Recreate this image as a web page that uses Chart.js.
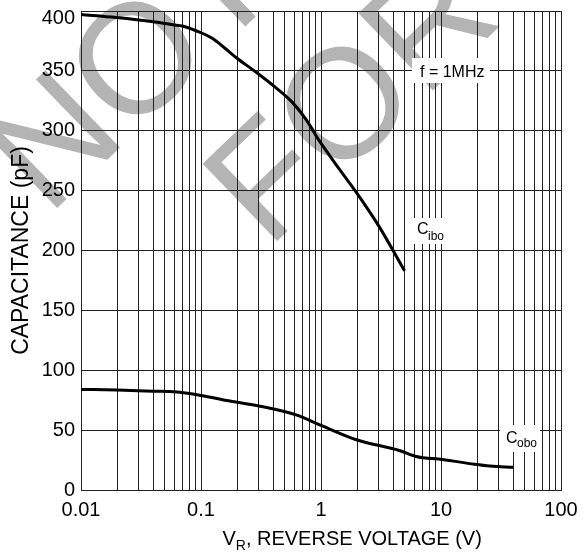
<!DOCTYPE html>
<html>
<head>
<meta charset="utf-8">
<script src="https://cdn.jsdelivr.net/npm/chart.js@4"></script>
<style>
  html, body { margin: 0; padding: 0; background: #fff; }
  #wrap { width: 585px; height: 552px; }
</style>
</head>
<body>
<div id="wrap"><canvas id="capChart" width="585" height="552"></canvas></div>
<script>
// C_ibo curve (V, pF)
const ciboVolts = [0.01, 0.0196, 0.04, 0.058, 0.07, 0.091, 0.125, 0.16, 0.197, 0.287, 0.42, 0.58, 0.75, 0.97, 1.33, 1.97, 3.07, 4.97];
const ciboPf    = [397, 394.5, 391, 388.5, 387.5, 383.5, 377, 368.5, 361, 349, 336, 323.5, 309.5, 291.5, 272, 248.5, 219.5, 183];

// C_obo curve
const coboVolts = [0.01, 0.02, 0.04, 0.06, 0.1, 0.17, 0.31, 0.63, 1.0, 1.97, 4.5, 6.2, 10.3, 19, 25.6, 40];
const coboPf    = [84, 83.5, 82.5, 82, 79, 74.5, 70, 62.5, 54, 42, 33, 28, 25.5, 21.5, 20, 19];

// axis stuff
const xDecades = [0.01, 0.1, 1, 10];
const xTickLabels = ['0.01', '0.1', '1', '10', '100'];
const yMin = 0, yMax = 400, yStep = 50;

const FONT = '"Liberation Sans", Arial, sans-serif';

function toPoints(xs, ys){
    let pts = [];
    for(var i = 0; i < xs.length; i++){
        pts.push({x: xs[i], y: ys[i]});
    }
    return pts;
}

// grid at 1..9 of every decade, plus the last 100
let xGrid = [];
for(var d = 0; d < xDecades.length; d++){
    for(var m = 1; m < 10; m++){
        xGrid.push(xDecades[d] * m);
    }
}
xGrid.push(100);

// grey "NOT / FOR" watermark behind the grid
const watermark = {
    id: 'watermark',
    beforeDraw(chart){
        const ctx = chart.ctx;
        const ang = -44 * Math.PI / 180;
        ctx.save();
        ctx.fillStyle = '#b4b4b4';
        ctx.font = '156px ' + FONT;
        ctx.translate(48, 217);
        ctx.rotate(ang);
        ctx.fillText('NOT', 0, 0);
        ctx.restore();
        ctx.save();
        ctx.fillStyle = '#b4b4b4';
        ctx.font = '156px ' + FONT;
        ctx.translate(268, 250);
        ctx.rotate(ang);
        ctx.fillText('FOR', 0, 0);
        ctx.restore();
    }
};

// white-boxed labels and the x title with its subscript
const labels = {
    id: 'labels',
    afterDraw(chart){
        const ctx = chart.ctx;
        const yScale = chart.scales.y;
        ctx.save();
        ctx.fillStyle = '#fff';
        ctx.fillRect(412, 58, 78, 25);
        ctx.fillRect(412, 218, 36, 26);
        ctx.fillRect(500, 425, 40, 27);

        ctx.fillStyle = '#000';
        ctx.textBaseline = 'alphabetic';
        ctx.textAlign = 'left';
        ctx.font = '16px ' + FONT;
        ctx.fillText('f = 1MHz', 420, 77);
        ctx.fillText('C', 417, 234);
        ctx.fillText('C', 506, 443);
        ctx.font = '12px ' + FONT;
        ctx.fillText('ibo', 428, 240);
        ctx.fillText('obo', 517, 447);

        // top y label sits a bit below the top line, as in the original
        ctx.font = '20px ' + FONT;
        ctx.textAlign = 'right';
        ctx.textBaseline = 'middle';
        ctx.fillText(String(yMax), yScale.right - 6, yScale.getPixelForValue(yMax) + 7);

        // x axis title: V_R, REVERSE VOLTAGE (V)
        ctx.textAlign = 'left';
        ctx.textBaseline = 'alphabetic';
        const main = ', REVERSE VOLTAGE (V)';
        const wV = ctx.measureText('V').width;
        const wComma = ctx.measureText(', ').width;
        ctx.font = '14px ' + FONT;
        const wR = ctx.measureText('R').width;
        let x0 = 257 - wComma - wR - wV;
        ctx.font = '20px ' + FONT;
        ctx.fillText('V', x0, 545);
        ctx.font = '14px ' + FONT;
        ctx.fillText('R', x0 + wV, 550);
        ctx.font = '20px ' + FONT;
        ctx.fillText(main, x0 + wV + wR, 545);
        ctx.restore();
    }
};

const ctx = document.getElementById('capChart').getContext('2d');
const capChart = new Chart(ctx, {
    type: 'scatter',
    data: {
        datasets: [{
            label: 'Cibo',
            data: toPoints(ciboVolts, ciboPf),
            showLine: true,
            borderColor: '#000',
            borderWidth: 3,
            pointRadius: 0,
            cubicInterpolationMode: 'monotone'
        }, {
            label: 'Cobo',
            data: toPoints(coboVolts, coboPf),
            showLine: true,
            borderColor: '#000',
            borderWidth: 3,
            pointRadius: 0,
            cubicInterpolationMode: 'monotone'
        }]
    },
    options: {
        responsive: false,
        animation: false,
        layout: {
            padding: {left: 0, top: 11, right: 24, bottom: 0}
        },
        plugins: {
            legend: { display: false },
            tooltip: { enabled: false },
            title: { display: false }
        },
        scales: {
            x: {
                type: 'logarithmic',
                min: 0.01,
                max: 100,
                afterBuildTicks: function(scale){
                    scale.ticks = xGrid.map(v => ({value: v}));
                },
                afterFit: function(scale){
                    scale.height = 62;
                    scale.paddingLeft = 0;
                    scale.paddingRight = 0;
                },
                grid: {
                    color: '#222',
                    lineWidth: 1,
                    drawTicks: false
                },
                border: { color: '#222' },
                ticks: {
                    autoSkip: false,
                    maxRotation: 0,
                    padding: 8,
                    color: '#000',
                    font: { family: FONT, size: 20 },
                    callback: function(val){
                        for(var i = 0; i < xTickLabels.length; i++){
                            if(Math.abs(val / parseFloat(xTickLabels[i]) - 1) < 1e-6){
                                return xTickLabels[i];
                            }
                        }
                        return '';
                    }
                }
            },
            y: {
                min: yMin,
                max: yMax,
                afterFit: function(scale){
                    scale.width = 81;
                    scale.paddingTop = 0;
                    scale.paddingBottom = 0;
                },
                grid: {
                    color: '#222',
                    lineWidth: 1,
                    drawTicks: false
                },
                border: { color: '#222' },
                ticks: {
                    stepSize: yStep,
                    padding: 6,
                    color: '#000',
                    font: { family: FONT, size: 20 },
                    callback: function(val){
                        return val === yMax ? '' : val;   // drawn by the plugin
                    }
                },
                title: {
                    display: true,
                    text: 'CAPACITANCE (pF)',
                    color: '#000',
                    font: { family: FONT, size: 23 },
                    padding: { top: 8, bottom: 0 }
                }
            }
        }
    },
    plugins: [watermark, labels]
});
</script>
</body>
</html>
